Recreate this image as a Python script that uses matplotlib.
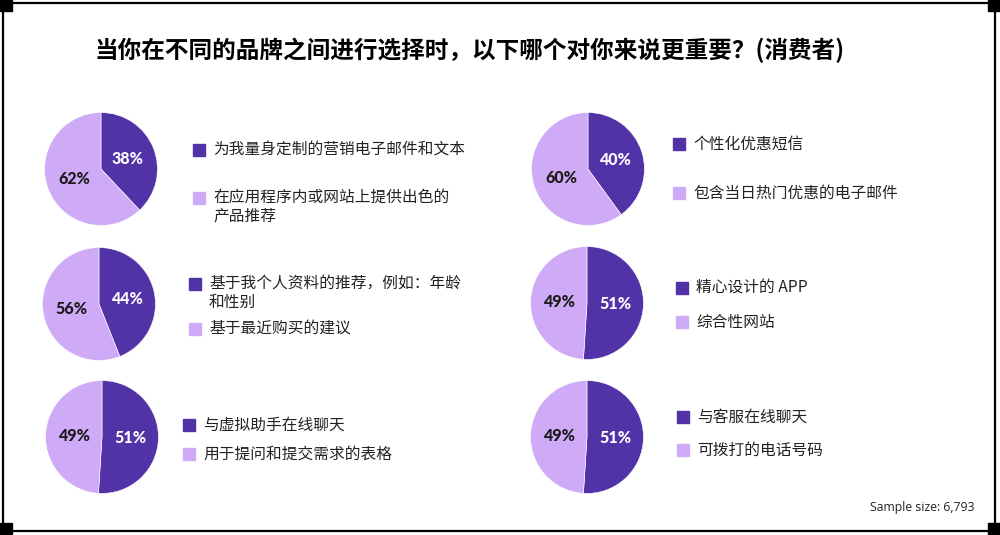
import matplotlib.pyplot as plt
from matplotlib.patches import Rectangle
from matplotlib.lines import Line2D

plt.rcParams['font.family'] = ['Noto Sans CJK SC', 'DejaVu Sans']

W, H = 1000, 535

titulo = "当你在不同的品牌之间进行选择时，以下哪个对你来说更重要？(消费者)"
amostra = "Sample size: 6,793"

# ordem: coluna esquerda de cima para baixo, depois coluna direita
dark_pct = [38, 44, 51, 40, 51, 51]
light_pct = [62, 56, 49, 60, 49, 49]
dark_labels = [
    "为我量身定制的营销电子邮件和文本",
    "基于我个人资料的推荐，例如：年龄\n和性别",
    "与虚拟助手在线聊天",
    "个性化优惠短信",
    "精心设计的 APP",
    "与客服在线聊天",
]
light_labels = [
    "在应用程序内或网站上提供出色的\n产品推荐",
    "基于最近购买的建议",
    "用于提问和提交需求的表格",
    "包含当日热门优惠的电子邮件",
    "综合性网站",
    "可拨打的电话号码",
]

cor_escura = '#5232A7'
cor_clara = '#CFAAF6'

# layout em pixels: centro da pizza, raio, x do quadrado, y dos quadrados
centros = [(101, 169), (99, 304), (102, 437), (588, 169), (587, 303), (587, 437)]
raio = 57
leg_x = [193, 189, 183, 673, 676, 677]
leg_y1 = [150, 284, 425, 144, 288, 417]
leg_y2 = [198, 329, 454, 193, 322, 450]


def fx(x):
    return x / W


def fy(y):
    return 1 - y / H


fig = plt.figure(figsize=(10, 5.35), dpi=100)

# moldura
for (x0, y0, x1, y1) in [(8, 3, 990, 3), (3, 8, 3, 528), (8, 531, 990, 531), (995, 8, 995, 528)]:
    fig.add_artist(Line2D([fx(x0), fx(x1)], [fy(y0), fy(y1)], color='black', lw=1.6))
for (x0, y0) in [(0, 0), (988, 0), (0, 523), (988, 523)]:
    fig.add_artist(Rectangle((fx(x0), fy(y0 + 11)), 12 / W, 11 / H, color='black'))

fig.text(fx(470), fy(50), titulo, ha='center', va='center', fontsize=17, fontweight='heavy')

for i in range(6):
    cx, cy = centros[i]
    ax = fig.add_axes([fx(cx - raio), fy(cy + raio), 2 * raio / W, 2 * raio / H])
    wedges, textos, autotextos = ax.pie(
        [dark_pct[i], light_pct[i]], colors=[cor_escura, cor_clara],
        startangle=90, counterclock=False, autopct='%.0f%%', pctdistance=0.5,
        wedgeprops=dict(edgecolor='white', linewidth=0.4))
    ax.set_xlim(-1.01, 1.01)
    ax.set_ylim(-1.01, 1.01)
    autotextos[0].set_color('white')
    autotextos[1].set_color('#1a1a1a')
    for t in autotextos:
        t.set_fontsize(11.5)
        t.set_fontweight('black')
        t.set_family(['Lato', 'DejaVu Sans'])

    # legenda manual
    sx = leg_x[i]
    for y, cor, rotulo in [(leg_y1[i], cor_escura, dark_labels[i]), (leg_y2[i], cor_clara, light_labels[i])]:
        fig.add_artist(Rectangle((fx(sx), fy(y + 6)), 12 / W, 12 / H, color=cor))
        if '\n' in rotulo:
            fig.text(fx(sx + 20), fy(y - 9), rotulo, ha='left', va='top', fontsize=11.3,
                     color='#222222', linespacing=1.12)
        else:
            fig.text(fx(sx + 20), fy(y), rotulo, ha='left', va='center', fontsize=11.3, color='#222222')

fig.text(fx(974), fy(507), amostra, ha='right', va='center', fontsize=8.8,
         family=['Open Sans', 'DejaVu Sans'], color='#222222')

fig.savefig('out.png', dpi=100)
